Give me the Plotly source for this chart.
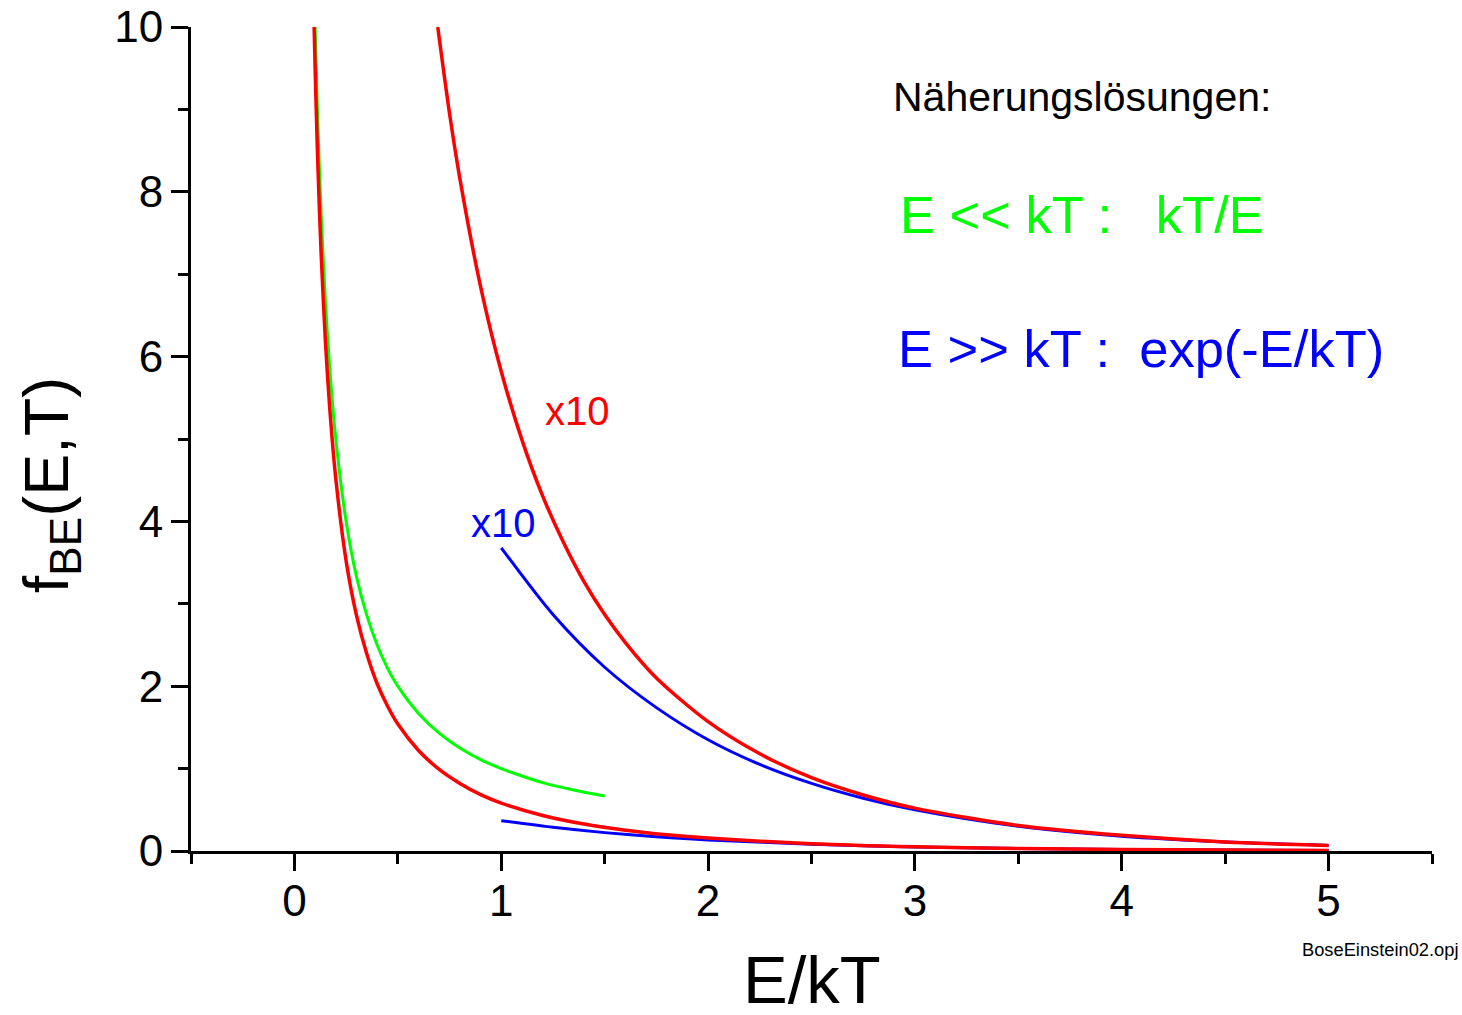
import plotly.graph_objects as go

# Bose-Einstein distribution f_BE = 1/(exp(E/kT)-1)
be_x = [0.0953, 0.1, 0.11, 0.12, 0.13, 0.15, 0.17, 0.2, 0.25, 0.3, 0.35, 0.4, 0.45, 0.5,
        0.6, 0.7, 0.8, 0.9, 1.0, 1.2, 1.4, 1.6, 1.8, 2.0, 2.5, 3.0, 3.5, 4.0, 4.5, 5.0]
be_y = [10.0, 9.51, 8.60, 7.84, 7.20, 6.18, 5.40, 4.52, 3.52, 2.86, 2.39, 2.03, 1.76, 1.54,
        1.22, 0.99, 0.82, 0.685, 0.582, 0.431, 0.327, 0.253, 0.198, 0.157, 0.089, 0.052,
        0.031, 0.019, 0.011, 0.007]

# x10 scaled Bose-Einstein curve
be10_x = [0.693, 0.75, 0.8, 0.9, 1.0, 1.1, 1.2, 1.3, 1.4, 1.5, 1.6, 1.75, 2.0, 2.25, 2.5,
          2.75, 3.0, 3.5, 4.0, 4.5, 5.0]
be10_y = [10.0, 8.95, 8.16, 6.85, 5.82, 4.99, 4.31, 3.75, 3.27, 2.87, 2.53, 2.10, 1.57, 1.18,
          0.89, 0.68, 0.52, 0.31, 0.19, 0.11, 0.068]

# Approximation E << kT : kT/E
lo_x = [0.1, 0.11, 0.12, 0.13, 0.15, 0.17, 0.2, 0.25, 0.3, 0.35, 0.4, 0.45, 0.5, 0.6, 0.7,
        0.8, 0.9, 1.0, 1.1, 1.2, 1.35, 1.5]
lo_y = [10.0, 9.09, 8.33, 7.69, 6.67, 5.88, 5.0, 4.0, 3.33, 2.86, 2.5, 2.22, 2.0, 1.67, 1.43,
        1.25, 1.11, 1.0, 0.91, 0.83, 0.74, 0.667]

# Approximation E >> kT : exp(-E/kT)
hi_x = [1.0, 1.25, 1.5, 1.75, 2.0, 2.5, 3.0, 3.5, 4.0, 4.5, 5.0]
hi_y = [0.368, 0.287, 0.223, 0.174, 0.135, 0.082, 0.050, 0.030, 0.018, 0.011, 0.0067]

# x10 scaled exp(-E/kT)
hi10_x = [1.0, 1.25, 1.5, 1.75, 2.0, 2.25, 2.5, 2.75, 3.0, 3.5, 4.0, 4.5, 5.0]
hi10_y = [3.68, 2.87, 2.23, 1.74, 1.35, 1.05, 0.82, 0.64, 0.50, 0.30, 0.18, 0.11, 0.067]

x_ticks = [0, 1, 2, 3, 4, 5]
y_ticks = [0, 2, 4, 6, 8, 10]

FONT = "Liberation Sans, Arial, sans-serif"
RED, GREEN, BLUE = "#FF0000", "#00FF00", "#0000FF"

fig = go.Figure()
fig.add_trace(go.Scatter(x=lo_x, y=lo_y, mode="lines",
                         line=dict(color=GREEN, width=3, shape="spline", smoothing=0.8)))
fig.add_trace(go.Scatter(x=hi_x, y=hi_y, mode="lines",
                         line=dict(color=BLUE, width=3, shape="spline", smoothing=0.8)))
fig.add_trace(go.Scatter(x=hi10_x, y=hi10_y, mode="lines",
                         line=dict(color=BLUE, width=3, shape="spline", smoothing=0.8)))
fig.add_trace(go.Scatter(x=be_x, y=be_y, mode="lines",
                         line=dict(color=RED, width=3.5, shape="spline", smoothing=0.8)))
fig.add_trace(go.Scatter(x=be10_x, y=be10_y, mode="lines",
                         line=dict(color=RED, width=3.5, shape="spline", smoothing=0.8)))

axis_common = dict(showline=True, linecolor="black", linewidth=3, ticks="outside",
                   tickcolor="black", tickwidth=3, ticklen=17, showgrid=False, zeroline=False,
                   automargin=False,
                   tickfont=dict(family=FONT, size=44, color="black"))

fig.update_xaxes(range=[-0.5, 5.5], tickvals=x_ticks, ticktext=[str(v) for v in x_ticks],
                 minor=dict(dtick=0.5, tick0=-0.5, ticks="outside", ticklen=10, tickwidth=3,
                            tickcolor="black", showgrid=False),
                 ticklabelstandoff=-8, **axis_common)
fig.update_yaxes(range=[0, 10], tickvals=y_ticks, ticktext=[str(v) for v in y_ticks],
                 minor=dict(dtick=1, tick0=0, ticks="outside", ticklen=10, tickwidth=3,
                            tickcolor="black", showgrid=False),
                 ticklabelstandoff=-1, **axis_common)

annotations = [
    dict(text="Näherungslösungen:", x=2.886, y=9.15, xref="x", yref="y", xanchor="left",
         yanchor="middle", showarrow=False, font=dict(family=FONT, size=41, color="black")),
    dict(text="E &lt;&lt; kT :&nbsp;&nbsp; kT/E", x=2.920, y=7.72, xref="x", yref="y",
         xanchor="left", yanchor="middle", showarrow=False,
         font=dict(family=FONT, size=52.5, color=GREEN)),
    dict(text="E &gt;&gt; kT :&nbsp; exp(-E/kT)", x=2.908, y=6.10, xref="x", yref="y",
         xanchor="left", yanchor="middle", showarrow=False,
         font=dict(family=FONT, size=52.5, color=BLUE)),
    dict(text="x10", x=1.368, y=5.34, xref="x", yref="y", showarrow=False,
         font=dict(family=FONT, size=40, color=RED)),
    dict(text="x10", x=1.011, y=3.98, xref="x", yref="y", showarrow=False,
         font=dict(family=FONT, size=40, color=BLUE)),
    dict(text="BoseEinstein02.opj", x=1.0235, y=-0.120, xref="paper", yref="paper",
         xanchor="right", yanchor="middle", showarrow=False,
         font=dict(family=FONT, size=18.3, color="black")),
    dict(text="E/kT", x=0.5, y=-0.156, xref="paper", yref="paper", xanchor="center",
         yanchor="middle", showarrow=False, font=dict(family=FONT, size=67, color="black")),
    dict(text="f<sub>BE</sub>(E,T)", x=-0.1136, y=0.444, xref="paper", yref="paper",
         xanchor="center", yanchor="middle", textangle=-90, showarrow=False,
         font=dict(family=FONT, size=63, color="black")),
]

fig.update_layout(width=1462, height=1015, margin=dict(l=191, r=30, t=27, b=164),
                  paper_bgcolor="white", plot_bgcolor="white", showlegend=False,
                  annotations=annotations)

fig.write_html("out.html", config={"displayModeBar": False},
               post_script="document.body.style.margin='0';document.body.style.overflow='hidden';")
